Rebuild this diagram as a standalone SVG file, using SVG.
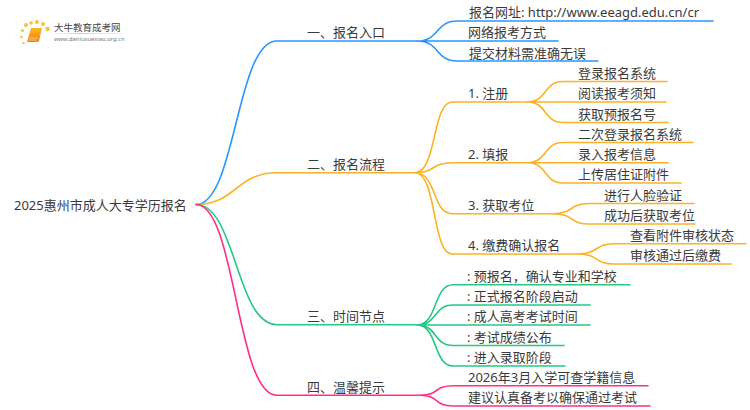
<svg xmlns="http://www.w3.org/2000/svg" width="750" height="410" viewBox="0 0 750 410">
<style>
text{font-family:"Noto Sans","Noto Sans CJK SC",sans-serif;font-size:13px;fill:#3a3a3a}
.c{fill:none;stroke-width:1.6;stroke-linecap:round}
.b{stroke:#2b95ff}.o{stroke:#fbb224}.g{stroke:#23c985}.p{stroke:#ff2e8a}
.d{fill:#f9c23c}
</style>
<defs><linearGradient id="bk" x1="0" y1="0" x2="0" y2="1"><stop offset="0" stop-color="#fbb923"/><stop offset="1" stop-color="#ee7d0e"/></linearGradient>
<linearGradient id="ln" x1="0" y1="0" x2="1" y2="0"><stop offset="0" stop-color="#ddd" stop-opacity="0"/><stop offset=".4" stop-color="#ccc"/><stop offset="1" stop-color="#ddd" stop-opacity="0"/></linearGradient></defs>
<g id="logo">
<circle class="d" cx="26" cy="25" r="2"/><circle class="d" cx="31" cy="23" r="1.800"/><circle class="d" cx="37" cy="22" r="2"/><circle class="d" cx="43" cy="24" r="2"/><circle class="d" cx="47.500" cy="29" r="2.200"/><circle class="d" cx="22.500" cy="30.500" r="1.500"/><circle class="d" cx="21.500" cy="37" r="1.300"/><circle class="d" cx="23.500" cy="43" r="1.200"/>
<path d="M31 28H42L39 41Q38 42 36 42H27Z" fill="url(#bk)"/><path d="M29 38H38M28 40H37" stroke="#fde3b0" stroke-width=".7"/>
<rect x="45" y="33" width="88" height="1" fill="url(#ln)"/>
<text x="54" y="31" style="font-size:9.500px;fill:#444">大牛教育成考网</text>
<text x="54" y="41" style="font-size:5.800px;fill:#777">www.daniuxuexiao.org.cn</text>
</g>
<g id="connectors">
<path class="c b" d="M196 204.500C236 204.500 236 41 277 41H417"/>
<path class="c o" d="M196 204.500C236 204.500 236 172.700 277 172.700H415"/>
<path class="c g" d="M196 204.500C236 204.500 236 324.700 277 324.700H417"/>
<path class="c p" d="M196 204.500C236 204.500 236 395.300 277 395.300H420"/>
<path class="c b" d="M417 41C440 41 435 21 457 21H713M417 41H558M417 41C440 41 435 61 457 61H598"/>
<path class="c o" d="M415 172.700C437 172.700 432 102 452 102H527M415 172.700C435 172.700 432 162.700 452 162.700H527M415 172.700C437 172.700 432 213.700 452 213.700H553M415 172.700C437 172.700 432 254 452 254H578"/>
<path class="c o" d="M527 102C548 102 543 81.500 563 81.500H667M527 102H666M527 102C548 102 543 122.500 563 122.500H668"/>
<path class="c o" d="M527 162.700C548 162.700 543 142.500 563 142.500H693M527 162.700H668M527 162.700C548 162.700 543 183 563 183H681"/>
<path class="c o" d="M553 213.700C574 213.700 569 203.500 589 203.500H694M553 213.700C574 213.700 569 224 589 224H695"/>
<path class="c o" d="M578 254C599 254 594 243.700 614 243.700H746M578 254C599 254 594 264 614 264H731"/>
<path class="c g" d="M417 325C438 325 433 284.700 453 284.700H630M417 325C438 325 433 305 453 305H590M417 325H590M417 325C438 325 433 345.500 453 345.500H564M417 325C438 325 433 366 453 366H565"/>
<path class="c p" d="M420 395.300C440 395.300 433 385.700 453 385.700H648M420 395.300C440 395.300 433 406 453 406H650"/>
</g>
<g id="root"><text x="14" y="210">2025惠州市成人大专学历报名</text></g>
<g id="n1"><text x="307" y="37">一、报名入口</text></g>
<g id="n1-1"><text x="469" y="17">报名网址: http://www.eeagd.edu.cn/cr</text></g>
<g id="n1-2"><text x="468" y="37">网络报考方式</text></g>
<g id="n1-3"><text x="469" y="58">提交材料需准确无误</text></g>
<g id="n2"><text x="307" y="169">二、报名流程</text></g>
<g id="n2-1"><text x="468" y="98">1. 注册</text></g>
<g id="n2-1-1"><text x="578" y="78">登录报名系统</text></g>
<g id="n2-1-2"><text x="578" y="98">阅读报考须知</text></g>
<g id="n2-1-3"><text x="578" y="119">获取预报名号</text></g>
<g id="n2-2"><text x="468" y="159">2. 填报</text></g>
<g id="n2-2-1"><text x="578" y="139">二次登录报名系统</text></g>
<g id="n2-2-2"><text x="578" y="159">录入报考信息</text></g>
<g id="n2-2-3"><text x="578" y="179">上传居住证附件</text></g>
<g id="n2-3"><text x="468" y="210">3. 获取考位</text></g>
<g id="n2-3-1"><text x="604" y="200">进行人脸验证</text></g>
<g id="n2-3-2"><text x="604" y="220">成功后获取考位</text></g>
<g id="n2-4"><text x="468" y="250">4. 缴费确认报名</text></g>
<g id="n2-4-1"><text x="630" y="240">查看附件审核状态</text></g>
<g id="n2-4-2"><text x="630" y="260">审核通过后缴费</text></g>
<g id="n3"><text x="307" y="321">三、时间节点</text></g>
<g id="n3-1"><text x="467" y="281">: 预报名，确认专业和学校</text></g>
<g id="n3-2"><text x="467" y="301">: 正式报名阶段启动</text></g>
<g id="n3-3"><text x="467" y="321">: 成人高考考试时间</text></g>
<g id="n3-4"><text x="467" y="342">: 考试成绩公布</text></g>
<g id="n3-5"><text x="467" y="362">: 进入录取阶段</text></g>
<g id="n4"><text x="307" y="392">四、温馨提示</text></g>
<g id="n4-1"><text x="468" y="382">2026年3月入学可查学籍信息</text></g>
<g id="n4-2"><text x="468" y="402">建议认真备考以确保通过考试</text></g>
</svg>
